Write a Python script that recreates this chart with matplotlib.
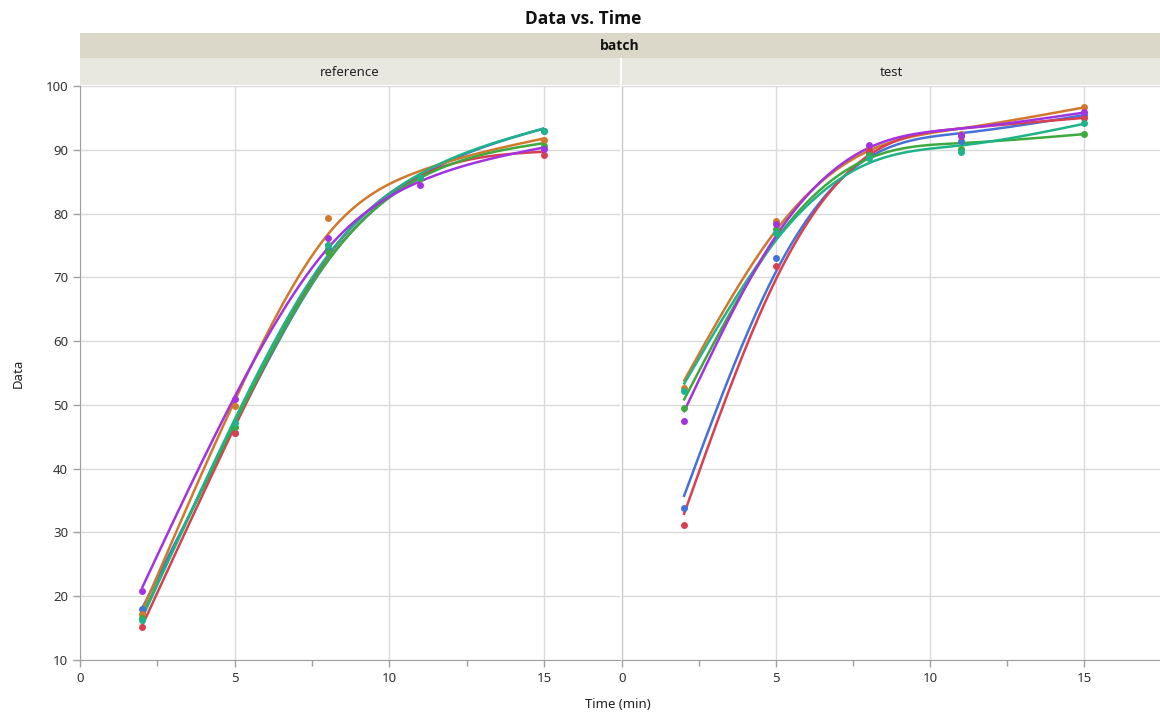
import numpy as np
import matplotlib
matplotlib.use("Agg")
import matplotlib.pyplot as plt
from matplotlib.patches import Rectangle
from matplotlib.ticker import MultipleLocator

plt.rcParams['font.family'] = ['Noto Sans', 'DejaVu Sans']

# ---------------- data ----------------
times = [2, 5, 8, 11, 15]
panels = ["reference", "test"]
series_colors = ["#4472D8", "#D2782B", "#D8404F", "#3DAA3D", "#1FB38A", "#A233E0"]

ref_blue   = [18.0, 45.6, 74.5, 85.5, 93.0]
ref_orange = [17.2, 49.8, 79.3, 85.5, 91.6]
ref_red    = [15.1, 45.6, 75.0, 85.8, 89.2]
ref_green  = [16.6, 46.5, 74.0, 85.5, 90.6]
ref_teal   = [16.2, 47.1, 75.1, 85.8, 93.0]
ref_purple = [20.8, 51.0, 76.1, 84.5, 90.1]

test_blue   = [33.9, 73.1, 89.5, 91.3, 95.5]
test_orange = [52.6, 78.8, 90.3, 92.5, 96.7]
test_red    = [31.1, 71.8, 90.0, 92.1, 95.0]
test_green  = [49.5, 77.5, 89.2, 90.1, 92.5]
test_teal   = [52.2, 77.0, 88.7, 89.6, 94.2]
test_purple = [47.5, 78.3, 90.8, 92.3, 95.9]

panel_data = {
    "reference": [ref_blue, ref_orange, ref_red, ref_green, ref_teal, ref_purple],
    "test": [test_blue, test_orange, test_red, test_green, test_teal, test_purple],
}

x_ticks = [0, 5, 10, 15]
y_ticks = [10, 20, 30, 40, 50, 60, 70, 80, 90, 100]


def smooth_spline(x, y, lam=2.0, n=261):
    """Discrete cubic smoothing spline (penalised least squares on fine grid)."""
    x = np.asarray(x, float)
    y = np.asarray(y, float)
    grid = np.linspace(x.min(), x.max(), n)
    h = grid[1] - grid[0]
    idx = np.array([np.argmin(np.abs(grid - xi)) for xi in x])
    W = np.zeros((n, n))
    b = np.zeros(n)
    for i, yi in zip(idx, y):
        W[i, i] += 1.0
        b[i] += yi
    D = np.zeros((n - 2, n))
    for i in range(n - 2):
        D[i, i:i + 3] = [1, -2, 1]
    A = W + (lam / h ** 3) * D.T @ D
    f = np.linalg.solve(A, b)
    return grid, f


# ---------------- figure ----------------
W_PX, H_PX = 1160, 716
fig = plt.figure(figsize=(W_PX / 100, H_PX / 100), dpi=100)

def fx(px):
    return px / W_PX

def fy(py):
    return 1 - py / H_PX

top_px, bot_px = 86, 660
ax_l = fig.add_axes([fx(80), fy(bot_px), fx(620) - fx(80), fy(top_px) - fy(bot_px)])
ax_r = fig.add_axes([fx(622), fy(bot_px), fx(1160) - fx(622), fy(top_px) - fy(bot_px)], sharey=ax_l)

grid_col = "#DADADA"
spine_col = "#A0A0A0"
tick_col = "#333333"

for ax, name in zip([ax_l, ax_r], panels):
    ax.set_xlim(0, 17.45)
    ax.set_ylim(10, 100)
    ax.set_xticks(x_ticks)
    ax.xaxis.set_minor_locator(MultipleLocator(2.5))
    ax.set_yticks(y_ticks)
    ax.grid(True, which="major", color=grid_col, lw=1.0, zorder=0)
    ax.set_axisbelow(True)
    for s in ["top", "right"]:
        ax.spines[s].set_visible(False)
    ax.spines["bottom"].set_color(spine_col)
    ax.spines["left"].set_color(spine_col)
    ax.tick_params(axis="both", colors=spine_col, labelcolor=tick_col, labelsize=9.5,
                   length=5, width=1)
    ax.tick_params(axis="x", which="minor", colors=spine_col, length=4, width=1)
    for vals, col in zip(panel_data[name], series_colors):
        gx, gy = smooth_spline(times, vals)
        ax.plot(gx, gy, color=col, lw=1.8, zorder=3, solid_capstyle="butt")
        ax.plot(times, vals, "o", color=col, ms=5, mec="none", zorder=4)

ax_r.tick_params(axis="y", left=False, labelleft=False)
ax_r.spines["left"].set_color("#C8C8C8")

# header strips
band = Rectangle((fx(80), fy(58)), fx(1160) - fx(80), fy(33) - fy(58),
                 transform=fig.transFigure, facecolor="#DBD8C9", edgecolor="none")
fig.patches.append(band)
strip_l = Rectangle((fx(80), fy(85)), fx(620) - fx(80), fy(58) - fy(85),
                    transform=fig.transFigure, facecolor="#E8E8E0", edgecolor="none")
strip_r = Rectangle((fx(622), fy(85)), fx(1160) - fx(622), fy(58) - fy(85),
                    transform=fig.transFigure, facecolor="#E8E8E0", edgecolor="none")
fig.patches.extend([strip_l, strip_r])

bold_fam = ['Open Sans', 'Lato', 'DejaVu Sans']
fig.text(fx(620), fy(45.5), "batch", ha="center", va="center", fontsize=10,
         fontweight="bold", family=bold_fam, color="#111111")
fig.text(fx(350), fy(72), panels[0], ha="center", va="center", fontsize=9.5, color="#222222")
fig.text(fx(891), fy(72), panels[1], ha="center", va="center", fontsize=9.5, color="#222222")

fig.text(fx(583), fy(19), "Data vs. Time", ha="center", va="center", fontsize=12.5,
         fontweight="bold", family=bold_fam, color="#111111")
fig.text(fx(618), fy(704), "Time (min)", ha="center", va="center", fontsize=9.5, color="#222222")
fig.text(fx(18), fy(373), "Data", ha="center", va="center", fontsize=9.5, rotation=90,
         color="#222222")

fig.savefig("out.png", dpi=100)
